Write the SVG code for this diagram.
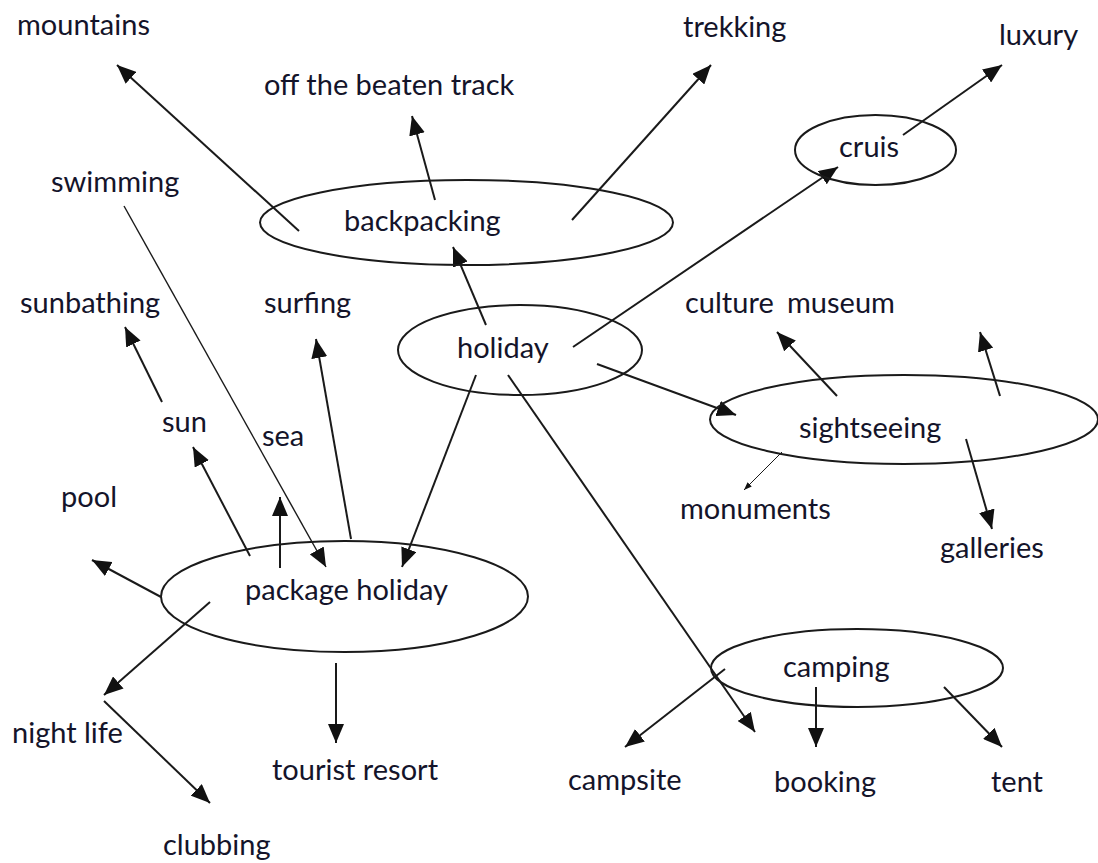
<svg xmlns="http://www.w3.org/2000/svg" width="1098" height="863" viewBox="0 0 1098 863">
<style>
  .node ellipse { fill: none; stroke: #1a1a1a; stroke-width: 2; }
  text { font-family: Lato, "Open Sans", "Liberation Sans", sans-serif; font-size: 29px; fill: #14142a; }
  .c { stroke: #1a1a1a; stroke-width: 2; fill: none; marker-end: url(#ah); }
  .thin { stroke-width: 1.4; }
  .hair { stroke-width: 1; marker-end: url(#ahs); }
</style>
<defs>
  <marker id="ah" markerUnits="userSpaceOnUse" markerWidth="20" markerHeight="16" viewBox="0 0 20 16" refX="19" refY="8" orient="auto">
    <path d="M0,0 L19,8 L0,16 Z" fill="#111"/>
  </marker>
  <marker id="ahs" markerUnits="userSpaceOnUse" markerWidth="8" markerHeight="6" viewBox="0 0 8 6" refX="8" refY="3" orient="auto">
    <path d="M0,0 L8,3 L0,6 Z" fill="#111"/>
  </marker>
</defs>
<rect width="1098" height="863" fill="#ffffff"/>
<g id="connectors">
  <path class="c" d="M299,231 L117,65"/>
  <path class="c" d="M435,200 L412,116"/>
  <path class="c" d="M572,220 L711,65"/>
  <path class="c" d="M486,325 L453,247"/>
  <path class="c" d="M573,347 L838,167"/>
  <path class="c" d="M903,135 L1002,65"/>
  <path class="c" d="M597,364 L736,415"/>
  <path class="c" d="M476,375 L402,567"/>
  <path class="c" d="M508,375 L755,732"/>
  <path class="c thin" d="M124,206 L326,567"/>
  <path class="c" d="M162,402 L125,327"/>
  <path class="c" d="M250,556 L193,447"/>
  <path class="c" d="M280,568 L280,497"/>
  <path class="c" d="M351,539 L316,339"/>
  <path class="c" d="M161,597 L92,560"/>
  <path class="c" d="M210,602 L104,695"/>
  <path class="c" d="M104,701 L210,803"/>
  <path class="c" d="M336,663 L336,743"/>
  <path class="c" d="M837,396 L777,332"/>
  <path class="c" d="M1000,396 L980,332"/>
  <path class="c hair" d="M782,452 L744,490"/>
  <path class="c" d="M966,439 L992,529"/>
  <path class="c" d="M725,669 L625,747"/>
  <path class="c" d="M816,687 L816,747"/>
  <path class="c" d="M944,687 L1002,747"/>
</g>
<g id="n-backpacking" class="node"><ellipse cx="466.5" cy="222.5" rx="206.5" ry="42.5"/><text x="344" y="231">backpacking</text></g>
<g id="n-cruis" class="node"><ellipse cx="875.5" cy="150" rx="80.5" ry="35"/><text x="839" y="157">cruis</text></g>
<g id="n-holiday" class="node"><ellipse cx="520" cy="350" rx="122" ry="45"/><text x="457" y="358">holiday</text></g>
<g id="n-sightseeing" class="node"><ellipse cx="904" cy="419.5" rx="194" ry="44.5"/><text x="799" y="438">sightseeing</text></g>
<g id="n-package" class="node"><ellipse cx="344.5" cy="596.5" rx="183.5" ry="55.5"/><text x="245" y="600">package holiday</text></g>
<g id="n-camping" class="node"><ellipse cx="857" cy="668" rx="146" ry="39"/><text x="783" y="677">camping</text></g>
<g id="n-mountains"><text x="17" y="35">mountains</text></g>
<g id="n-offtrack"><text x="264" y="95">off the beaten track</text></g>
<g id="n-trekking"><text x="683" y="37">trekking</text></g>
<g id="n-luxury"><text x="999" y="45">luxury</text></g>
<g id="n-swimming"><text x="51" y="192">swimming</text></g>
<g id="n-sunbathing"><text x="20" y="313">sunbathing</text></g>
<g id="n-surfing"><text x="264" y="313">surfing</text></g>
<g id="n-culture"><text x="685" y="313">culture <tspan x="787">museum</tspan></text></g>
<g id="n-sun"><text x="162" y="432">sun</text></g>
<g id="n-sea"><text x="262" y="446">sea</text></g>
<g id="n-monuments"><text x="680" y="519">monuments</text></g>
<g id="n-pool"><text x="61" y="507">pool</text></g>
<g id="n-galleries"><text x="940" y="558">galleries</text></g>
<g id="n-nightlife"><text x="12" y="743">night life</text></g>
<g id="n-tourist"><text x="272" y="780">tourist resort</text></g>
<g id="n-campsite"><text x="568" y="790">campsite</text></g>
<g id="n-booking"><text x="774" y="792">booking</text></g>
<g id="n-tent"><text x="991" y="792">tent</text></g>
<g id="n-clubbing"><text x="163" y="855">clubbing</text></g>
</svg>
